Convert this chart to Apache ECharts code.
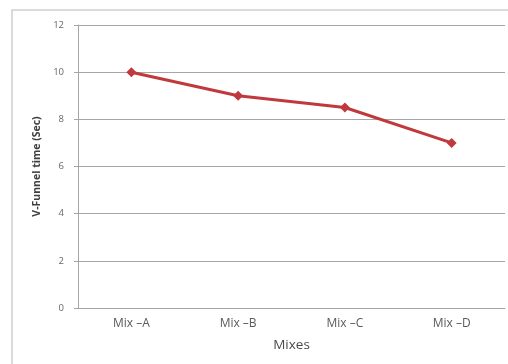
<!DOCTYPE html>
<html>
<head>
<meta charset="utf-8">
<script src="https://cdn.jsdelivr.net/npm/echarts@6/dist/echarts.min.js"></script>
<style>
html,body{margin:0;padding:0;background:#fff;}
#c{width:508px;height:364px;}
</style>
</head>
<body>
<div id="c"></div>
<script>
const categories = ['Mix \u2013A', 'Mix \u2013B', 'Mix \u2013C', 'Mix \u2013D'];
const vFunnelTime = [10, 9, 8.5, 7];
const yTicks = [0, 2, 4, 6, 8, 10, 12];

const chart = echarts.init(document.getElementById('c'), null, {renderer: 'canvas'});
chart.setOption({
  animation: false,
  backgroundColor: '#fff',
  textStyle: {fontFamily: '"Open Sans", sans-serif'},
  graphic: [{
    type: 'rect',
    shape: {x: 12, y: 10, width: 520, height: 380},
    style: {fill: 'none', stroke: '#d0d0d0', lineWidth: 1.5},
    silent: true, z: -1
  }],
  grid: {left: 78, right: 3, top: 25, bottom: 56, containLabel: false},
  xAxis: {
    type: 'category',
    data: categories,
    boundaryGap: true,
    name: 'Mixes',
    nameLocation: 'middle',
    nameGap: 30,
    nameTextStyle: {color: '#4a4a4a', fontSize: 13.5, fontFamily: '"Open Sans", sans-serif'},
    axisLine: {lineStyle: {color: '#a6a6a6', width: 1}},
    axisTick: {show: false},
    axisLabel: {color: '#5a5a5a', fontSize: 12, margin: 10, fontFamily: '"Open Sans", sans-serif'}
  },
  yAxis: {
    type: 'value',
    min: yTicks[0],
    max: yTicks[yTicks.length - 1],
    interval: 2,
    name: 'V-Funnel time (Sec)',
    nameLocation: 'middle',
    nameRotate: 90,
    nameGap: 33,
    nameTextStyle: {color: '#404040', fontSize: 10.5, fontWeight: 'bold', fontFamily: '"Open Sans", sans-serif'},
    axisLine: {show: true, lineStyle: {color: '#a6a6a6', width: 1}},
    axisTick: {show: true, length: 4, lineStyle: {color: '#a6a6a6'}},
    axisLabel: {color: '#666', fontSize: 9.5, margin: 14},
    splitLine: {lineStyle: {color: '#a6a6a6', width: 1}}
  },
  series: [{
    type: 'line',
    data: vFunnelTime,
    symbol: 'diamond',
    symbolSize: 10,
    lineStyle: {color: '#C0393C', width: 3},
    itemStyle: {color: '#C0393C'}
  }]
});
</script>
</body>
</html>
